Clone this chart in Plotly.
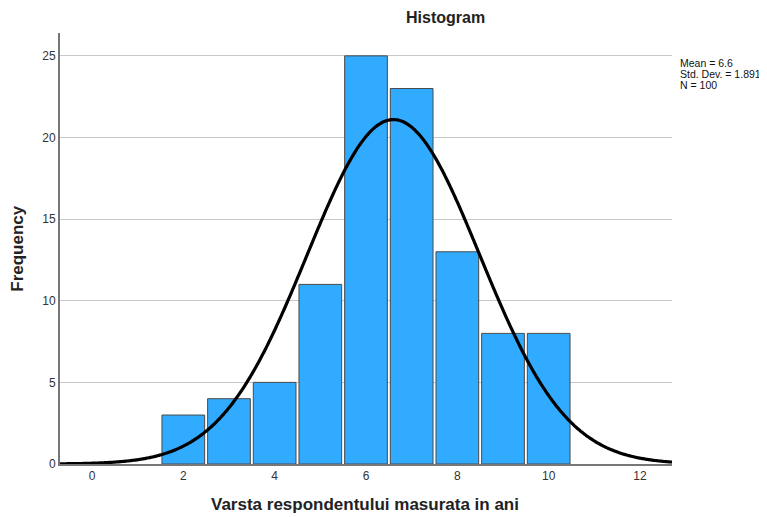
import numpy as np
import plotly.graph_objects as go

# Data
age_bins = [2, 3, 4, 5, 6, 7, 8, 9, 10]
frequencies = [3, 4, 5, 11, 25, 23, 13, 8, 8]
mean_val = 6.6
std_dev = 1.891
n_total = 100
bin_width = 1.0
x_ticks = [0, 2, 4, 6, 8, 10, 12]
y_ticks = [0, 5, 10, 15, 20, 25]

# Fitted normal curve from the stated mean / std dev
cx = np.linspace(-0.7, 12.7, 400)
cy = n_total * bin_width / (std_dev * np.sqrt(2 * np.pi)) * np.exp(-0.5 * ((cx - mean_val) / std_dev) ** 2)

FONT = "Liberation Sans, Arial, sans-serif"

# figure geometry (page has an 8px body margin)
W, H = 759, 509
L, R, T, B = 52, 95, 25, 52.5
PW, PH = W - L - R, H - T - B


def px(fx):
    return (fx - L) / PW


def py(fy):
    return (H - B - fy) / PH


fig = go.Figure()
fig.add_trace(go.Bar(
    x=age_bins, y=frequencies, width=0.935,
    marker=dict(color="#30ABFF", line=dict(color="#4a4a4a", width=1)),
    hoverinfo="x+y",
))
fig.add_trace(go.Scatter(
    x=cx, y=cy, mode="lines",
    line=dict(color="black", width=3.2, shape="spline"),
    hoverinfo="skip",
))

annotations = [
    dict(text="<b>Histogram</b>", x=px(437), y=py(9), xanchor="center", yanchor="middle",
         font=dict(family=FONT, size=16, color="#222222")),
    dict(text="<b>Varsta respondentului masurata in ani</b>", x=px(357), y=py(497),
         xanchor="center", yanchor="middle", font=dict(family=FONT, size=17, color="#222222")),
    dict(text="<b>Frequency</b>", x=px(10), y=py(240), textangle=-90,
         xanchor="center", yanchor="middle", font=dict(family=FONT, size=17, color="#222222")),
]
stat_lines = [f"Mean = {mean_val}", f"Std. Dev. = {std_dev}", f"N = {n_total}"]
for i, s in enumerate(stat_lines):
    annotations.append(dict(text=s, x=px(670), y=py(55 + 11 * i), xanchor="left", yanchor="middle",
                            font=dict(family=FONT, size=10.5, color="#111111")))
for a in annotations:
    a.update(xref="paper", yref="paper", showarrow=False)

fig.update_layout(
    width=W, height=H,
    margin=dict(l=L, r=R, t=T, b=B),
    plot_bgcolor="white", paper_bgcolor="white",
    showlegend=False,
    font=dict(family=FONT, color="#333333"),
    xaxis=dict(
        range=[-0.7, 12.7], tickvals=x_ticks, showgrid=False, zeroline=False,
        showline=True, linecolor="#777777", linewidth=1.5, automargin=False,
        ticks="", tickfont=dict(size=12, color="#333333"),
    ),
    yaxis=dict(
        range=[0, 26.4], tickvals=y_ticks, showgrid=True, gridcolor="#c8c8c8", gridwidth=1,
        zeroline=False, showline=True, linecolor="#777777", linewidth=2, automargin=False,
        ticks="", tickfont=dict(size=12, color="#333333"),
    ),
    annotations=annotations,
)
fig.write_html("out.html")
